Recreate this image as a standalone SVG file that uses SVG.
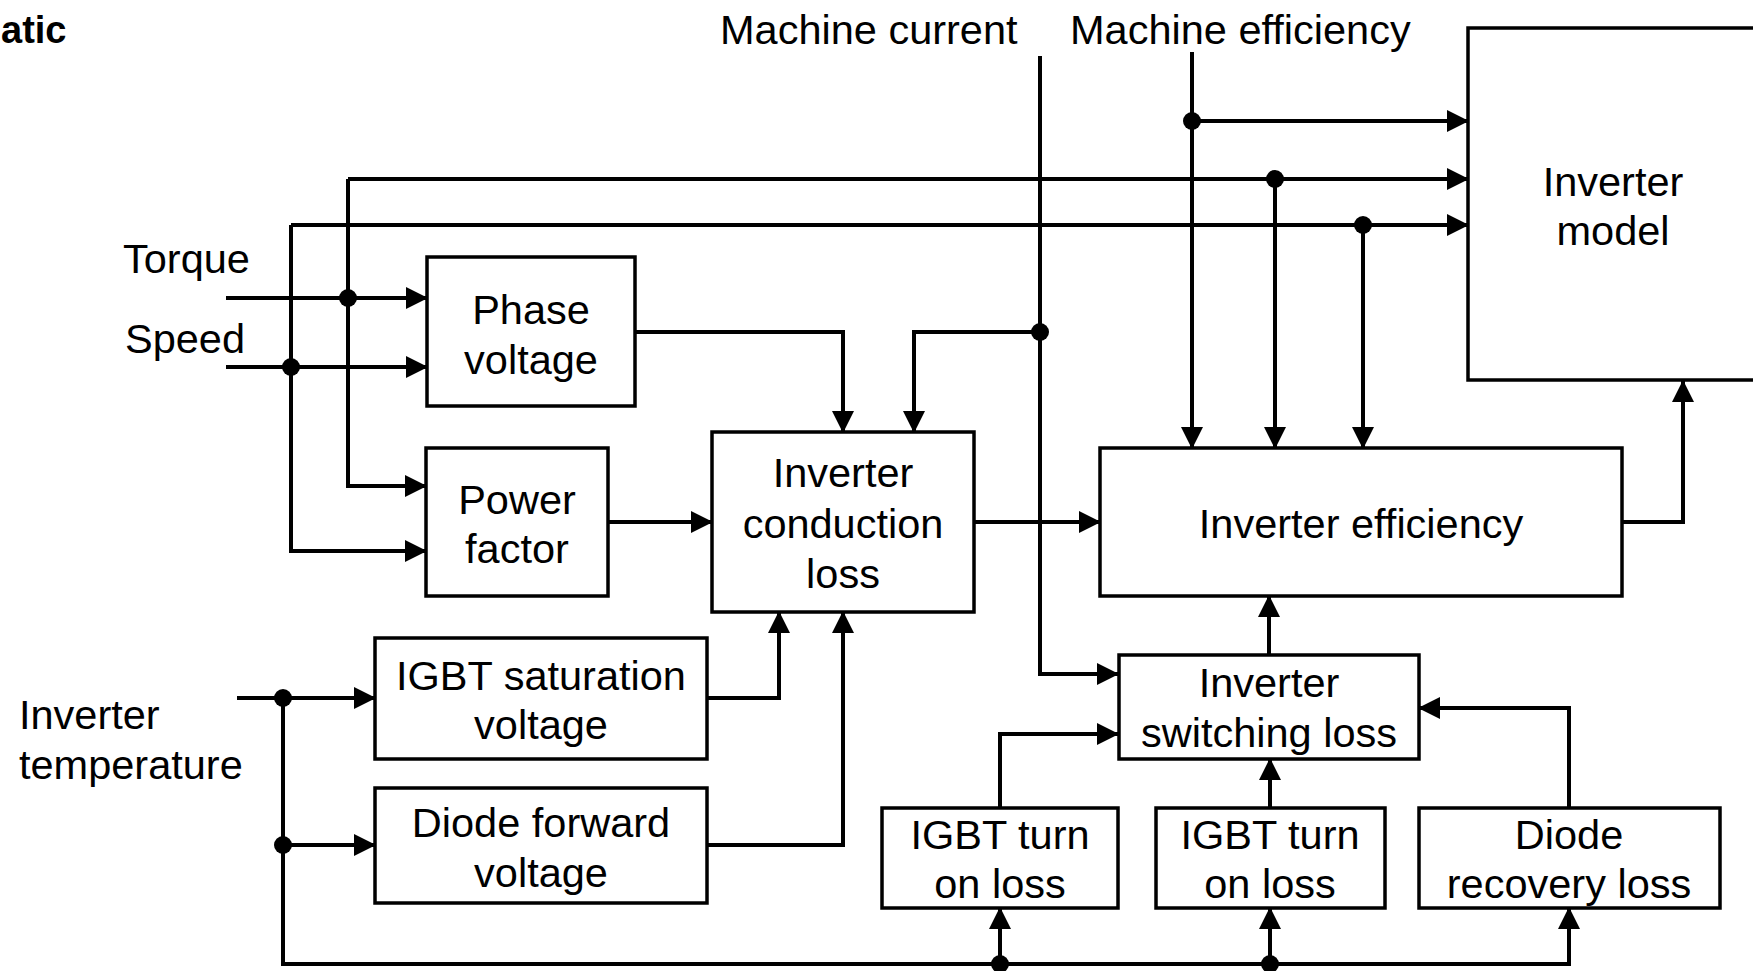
<svg xmlns="http://www.w3.org/2000/svg" width="1753" height="971" viewBox="0 0 1753 971">
<style>
.box{fill:#fff;stroke:#000;stroke-width:3.5}
.t{font-family:"Liberation Sans",Arial,sans-serif;font-size:41.5px;fill:#000}
.c{text-anchor:middle}
.w{fill:none;stroke:#000;stroke-width:4;marker-end:url(#ah)}
.d{fill:#000}
</style>
<defs>
<marker id="ah" markerUnits="userSpaceOnUse" markerWidth="22" markerHeight="22" refX="21" refY="11" orient="auto">
<path d="M0,0 L22,11 L0,22 Z" fill="#000"/>
</marker>
</defs>
<rect width="1753" height="971" fill="#fff"/>
<text x="1" y="43" class="t" style="font-weight:bold;font-size:38px">atic</text>
<text x="720" y="44" class="t">Machine current</text>
<text x="1070" y="44" class="t">Machine efficiency</text>
<text x="123" y="273" class="t">Torque</text>
<text x="125" y="353" class="t">Speed</text>
<text x="19" y="729" class="t">Inverter</text>
<text x="19" y="779" class="t">temperature</text>

<g id="connectors">
<path class="w" d="M226,298 H427"/>
<path class="w" d="M226,367 H427"/>
<path class="w" d="M348,179 V486 H426"/>
<path class="w" d="M348,179 H1468"/>
<path class="w" d="M291,225 V551 H426"/>
<path class="w" d="M291,225 H1468"/>
<path class="w" d="M635,332 H843 V432"/>
<path class="w" d="M1040,56 V674 H1118"/>
<path class="w" d="M1040,332 H914 V432"/>
<path class="w" d="M1192,52 V448"/>
<path class="w" d="M1192,121 H1468"/>
<path class="w" d="M1275,179 V448"/>
<path class="w" d="M1363,225 V448"/>
<path class="w" d="M608,522 H712"/>
<path class="w" d="M974,522 H1100"/>
<path class="w" d="M1622,522 H1683 V381"/>
<path class="w" d="M707,698 H779 V612"/>
<path class="w" d="M707,845 H843 V612"/>
<path class="w" d="M237,698 H375"/>
<path class="w" d="M283,698 V964 H1569 V908"/>
<path class="w" d="M283,845 H375"/>
<path class="w" d="M1000,964 V908"/>
<path class="w" d="M1270,964 V908"/>
<path class="w" d="M1000,808 V734 H1118"/>
<path class="w" d="M1270,808 V759"/>
<path class="w" d="M1569,808 V708 H1419"/>
<path class="w" d="M1269,655 V596"/>
<circle class="d" cx="348" cy="298" r="9"/>
<circle class="d" cx="291" cy="367" r="9"/>
<circle class="d" cx="1040" cy="332" r="9"/>
<circle class="d" cx="1192" cy="121" r="9"/>
<circle class="d" cx="1275" cy="179" r="9"/>
<circle class="d" cx="1363" cy="225" r="9"/>
<circle class="d" cx="283" cy="698" r="9"/>
<circle class="d" cx="283" cy="845" r="9"/>
<circle class="d" cx="1000" cy="964" r="9"/>
<circle class="d" cx="1270" cy="964" r="9"/>
</g>

<g id="inverter-model">
<rect class="box" x="1468" y="28" width="300" height="352"/>
<text x="1613" y="196" class="t c">Inverter</text>
<text x="1613" y="245" class="t c">model</text>
</g>
<g id="phase-voltage">
<rect class="box" x="427" y="257" width="208" height="149"/>
<text x="531" y="324" class="t c">Phase</text>
<text x="531" y="374" class="t c">voltage</text>
</g>
<g id="power-factor">
<rect class="box" x="426" y="448" width="182" height="148"/>
<text x="517" y="514" class="t c">Power</text>
<text x="517" y="563" class="t c">factor</text>
</g>
<g id="conduction-loss">
<rect class="box" x="712" y="432" width="262" height="180"/>
<text x="843" y="487" class="t c">Inverter</text>
<text x="843" y="538" class="t c">conduction</text>
<text x="843" y="588" class="t c">loss</text>
</g>
<g id="inverter-efficiency">
<rect class="box" x="1100" y="448" width="522" height="148"/>
<text x="1361" y="538" class="t c">Inverter efficiency</text>
</g>
<g id="igbt-saturation">
<rect class="box" x="375" y="638" width="332" height="121"/>
<text x="541" y="690" class="t c">IGBT saturation</text>
<text x="541" y="739" class="t c">voltage</text>
</g>
<g id="diode-forward">
<rect class="box" x="375" y="788" width="332" height="115"/>
<text x="541" y="837" class="t c">Diode forward</text>
<text x="541" y="887" class="t c">voltage</text>
</g>
<g id="switching-loss">
<rect class="box" x="1119" y="655" width="300" height="104"/>
<text x="1269" y="697" class="t c">Inverter</text>
<text x="1269" y="747" class="t c">switching loss</text>
</g>
<g id="igbt-turn-on-1">
<rect class="box" x="882" y="808" width="236" height="100"/>
<text x="1000" y="849" class="t c">IGBT turn</text>
<text x="1000" y="898" class="t c">on loss</text>
</g>
<g id="igbt-turn-on-2">
<rect class="box" x="1156" y="808" width="229" height="100"/>
<text x="1270" y="849" class="t c">IGBT turn</text>
<text x="1270" y="898" class="t c">on loss</text>
</g>
<g id="diode-recovery">
<rect class="box" x="1419" y="808" width="301" height="100"/>
<text x="1569" y="849" class="t c">Diode</text>
<text x="1569" y="898" class="t c">recovery loss</text>
</g>
</svg>
